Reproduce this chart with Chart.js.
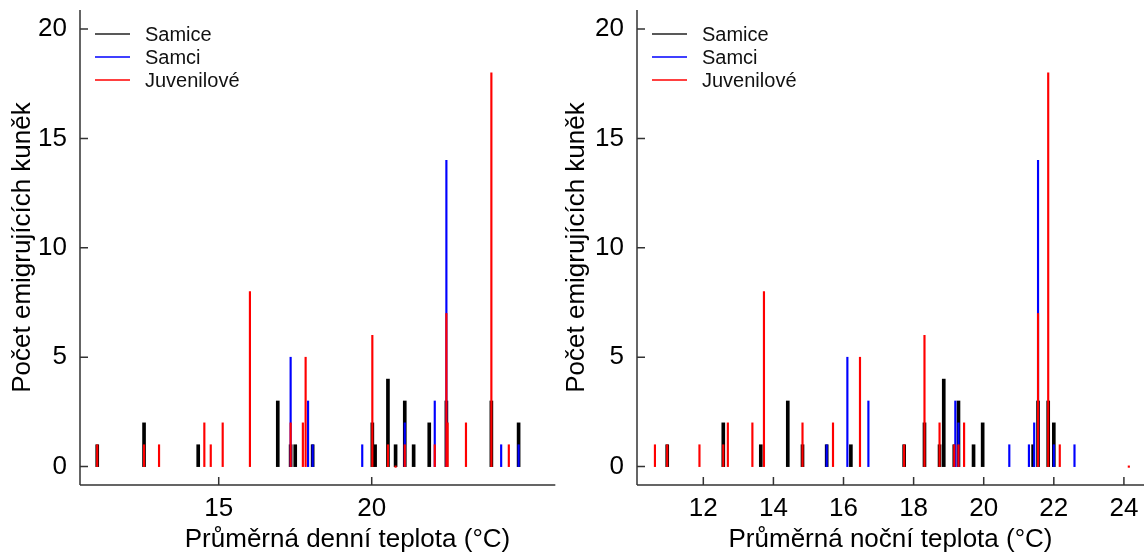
<!DOCTYPE html>
<html>
<head>
<meta charset="utf-8">
<script src="https://cdn.jsdelivr.net/npm/chart.js@4.4.0/dist/chart.umd.min.js"></script>
<style>
  html, body { margin: 0; padding: 0; background: #fff; }
  #wrap { position: relative; width: 1144px; height: 553px; overflow: hidden; }
  canvas { position: absolute; top: 0; }
</style>
</head>
<body>
<div id="wrap">
  <canvas id="day" width="640" height="553" style="left:0"></canvas>
  <canvas id="night" width="584" height="553" style="left:560px"></canvas>
</div>
<script>
// skupiny a barvy
const seriesNames = ['Samice', 'Samci', 'Juvenilové'];
const seriesColors = ['#000000', '#0000ff', '#ff0000'];
const yTicks = [0, 5, 10, 15, 20];
const dayTicks = [15, 20];
const nightTicks = [12, 14, 16, 18, 20, 22, 24];
const dayTitle = 'Průměrná denní teplota (°C)';
const nightTitle = 'Průměrná noční teplota (°C)';
const yTitle = 'Počet emigrujících kuněk';

// denní teplota
const daySamiceX = [11.03, 12.56, 14.33, 16.93, 17.35, 17.50, 18.07, 20.02, 20.11, 20.53, 20.78, 21.08, 21.37, 21.88, 22.44, 23.91, 24.80];
const daySamiceY = [1, 2, 1, 3, 1, 1, 1, 2, 1, 4, 1, 3, 1, 2, 3, 3, 2];
const daySamciX = [17.35, 17.92, 18.07, 19.69, 21.08, 22.06, 22.44, 24.23, 24.80];
const daySamciY = [5, 3, 1, 1, 2, 3, 14, 1, 1];
const dayJuvX = [11.03, 12.56, 13.05, 14.53, 14.74, 15.13, 16.02, 17.35, 17.75, 17.84, 20.02, 20.53, 20.78, 21.08, 22.06, 22.44, 22.48, 23.08, 23.91, 24.48];
const dayJuvY = [1, 1, 1, 2, 1, 2, 8, 2, 2, 5, 6, 1, 0, 1, 1, 7, 2, 2, 18, 1];

// noční teplota
const nightSamiceX = [10.97, 12.57, 13.64, 14.41, 14.83, 15.52, 16.21, 17.73, 18.31, 18.74, 18.86, 19.16, 19.28, 19.71, 19.97, 21.41, 21.55, 21.84, 22.00];
const nightSamiceY = [1, 2, 1, 3, 1, 1, 1, 1, 2, 1, 4, 1, 3, 1, 2, 1, 3, 3, 2];
const nightSamciX = [15.52, 16.11, 16.71, 19.19, 19.28, 20.73, 21.29, 21.44, 21.55, 22.00, 22.59];
const nightSamciY = [1, 5, 3, 3, 2, 1, 1, 2, 14, 1, 1];
const nightJuvX = [10.62, 10.97, 11.89, 12.57, 12.70, 13.40, 13.73, 14.83, 15.70, 16.47, 17.73, 18.31, 18.74, 19.16, 19.28, 19.44, 21.55, 21.84, 22.17, 24.14];
const nightJuvY = [1, 1, 1, 1, 2, 2, 8, 2, 2, 5, 1, 6, 2, 1, 1, 2, 7, 18, 1, 0];

const FONT = "'Liberation Sans', Arial, sans-serif";
const AXIS = '#333333';

function pts(xs, ys) {
  return xs.map((x, i) => ({ x: x, y: ys[i] }));
}

// osy s dovnitř otočenými čárkami + legenda v rohu
const rPlot = {
  id: 'rPlot',
  afterDatasetsDraw(chart, args, o) {
    const ctx = chart.ctx, a = chart.chartArea;
    const x = chart.scales.x, y = chart.scales.y;
    const xb = a.bottom, yl = a.left;
    ctx.save();
    ctx.strokeStyle = AXIS;
    ctx.lineWidth = 1.5;
    ctx.beginPath();
    ctx.moveTo(yl, a.top);
    ctx.lineTo(yl, xb);
    ctx.moveTo(yl, xb);
    ctx.lineTo(x.getPixelForValue(o.xEnd), xb);
    x.ticks.forEach(t => {
      const p = x.getPixelForValue(t.value);
      ctx.moveTo(p, xb);
      ctx.lineTo(p, xb - 8);
    });
    y.ticks.forEach(t => {
      const p = y.getPixelForValue(t.value);
      ctx.moveTo(yl, p);
      ctx.lineTo(yl + 8, p);
    });
    ctx.stroke();

    ctx.font = '20px ' + FONT;
    ctx.textBaseline = 'middle';
    ctx.textAlign = 'left';
    seriesNames.forEach((n, i) => {
      const ly = a.top + 24 + i * 23;
      ctx.strokeStyle = i === 0 ? '#222' : seriesColors[i];
      ctx.lineWidth = 1.5;
      ctx.beginPath();
      ctx.moveTo(yl + 15, ly);
      ctx.lineTo(yl + 50, ly);
      ctx.stroke();
      ctx.fillStyle = '#111';
      ctx.fillText(n, yl + 65, ly + 1);
    });
    ctx.restore();
  }
};

function noPad(s) {
  s.paddingTop = 0;
  s.paddingBottom = 0;
  s.paddingLeft = 0;
  s.paddingRight = 0;
}

function makeChart(id, data, cfg) {
  const datasets = data.map((d, i) => ({
    label: seriesNames[i],
    data: d,
    backgroundColor: seriesColors[i],
    borderWidth: 0,
    barThickness: i === 0 ? 3 : 1.5,
    minBarLength: i === 2 ? 1.5 : 0,
    grouped: false,
    order: 3 - i
  }));
  return new Chart(document.getElementById(id), {
    type: 'bar',
    data: { datasets: datasets },
    options: {
      responsive: false,
      animation: false,
      devicePixelRatio: 1,
      layout: { autoPadding: false, padding: { top: 10, right: cfg.padRight, left: 0, bottom: 0 } },
      plugins: { legend: { display: false }, tooltip: { enabled: false }, rPlot: { xEnd: cfg.xEnd } },
      scales: {
        x: {
          type: 'linear',
          min: cfg.xMin,
          max: cfg.xMax,
          offset: false,
          afterFit: s => { s.height = 68; noPad(s); },
          afterBuildTicks: s => { s.ticks = cfg.xTicks.map(v => ({ value: v })); },
          grid: { display: false, drawTicks: false },
          border: { display: false },
          ticks: { padding: 8, color: '#000', maxRotation: 0, autoSkip: false, font: { family: FONT, size: 26 } },
          title: { display: true, text: cfg.title, color: '#000', padding: 0, font: { family: FONT, size: 26, lineHeight: 1 } }
        },
        y: {
          min: -0.84,
          max: 20.87,
          afterFit: s => { s.width = cfg.yWidth; noPad(s); },
          afterBuildTicks: s => { s.ticks = yTicks.map(v => ({ value: v })); },
          grid: { display: false, drawTicks: false },
          border: { display: false },
          ticks: { padding: 13, color: '#000', font: { family: FONT, size: 26 } },
          title: { display: true, text: yTitle, color: '#000', padding: { top: cfg.yTitlePad, bottom: 0 }, font: { family: FONT, size: 26, lineHeight: 1 } }
        }
      }
    },
    plugins: [rPlot]
  });
}

makeChart('day', [pts(daySamiceX, daySamiceY), pts(daySamciX, daySamciY), pts(dayJuvX, dayJuvY)], {
  xMin: 10.467, xMax: 27.95, xEnd: 26, xTicks: dayTicks, title: dayTitle,
  yWidth: 80, yTitlePad: 10, padRight: 25
});

makeChart('night', [pts(nightSamiceX, nightSamiceY), pts(nightSamciX, nightSamciY), pts(nightJuvX, nightJuvY)], {
  xMin: 10.108, xMax: 24.573, xEnd: 24.573, xTicks: nightTicks, title: nightTitle,
  yWidth: 77, yTitlePad: 4, padRight: 0
});
</script>
</body>
</html>
